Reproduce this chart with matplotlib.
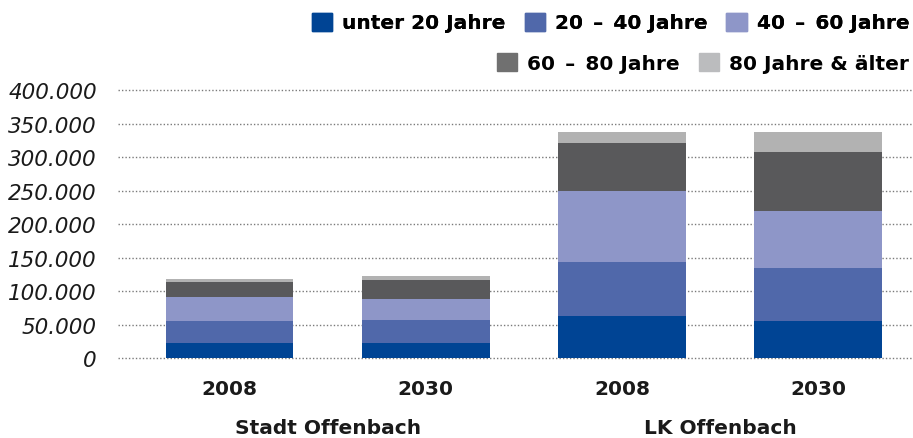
import matplotlib
matplotlib.use('Agg')
import matplotlib.pyplot as plt
import numpy as np
from matplotlib.patches import Patch

# Daten (Einwohner nach Altersgruppen)
jahre = ["2008", "2030", "2008", "2030"]
gebiete = ["Stadt Offenbach", "LK Offenbach"]
gruppen = ["unter 20 Jahre", "20\u2002–\u200240 Jahre", "40\u2002–\u200260 Jahre",
           "60\u2002–\u200280 Jahre", "80 Jahre & älter"]

unter_20 = [22500, 22500, 63000, 55000]
j20_40 = [32500, 34500, 81000, 80000]
j40_60 = [36000, 31000, 106000, 84000]
j60_80 = [23000, 29000, 72000, 89000]
ueber_80 = [4500, 5500, 16000, 30000]

farben = ["#004494", "#5068AA", "#8E96C8", "#59595B", "#B2B2B2"]
leg_farben = ["#004494", "#5068AA", "#8E96C8", "#707070", "#BBBCBE"]

schrift = 'DejaVu Sans'

fig = plt.figure(figsize=(9.13, 4.39), dpi=100)
ax = fig.add_axes([0.129, 0.182, 0.87, 0.61])

x = np.arange(len(jahre))
unten = np.zeros(len(jahre))
for werte, farbe, name in zip([unter_20, j20_40, j40_60, j60_80, ueber_80], farben, gruppen):
    ax.bar(x, werte, width=0.65, bottom=unten, color=farbe, label=name, zorder=3)
    unten += np.array(werte)

ax.set_ylim(0, 400000)
ax.set_xlim(-0.571, 3.48)
ax.set_yticks(np.arange(0, 400001, 50000))
ax.set_yticklabels([f"{v:,}".replace(",", ".") for v in range(0, 400001, 50000)],
                   fontstyle='italic', fontsize=15.5, family='DejaVu Sans', color='#1a1a1a')
ax.yaxis.grid(True, linestyle=(0, (1, 1.5)), color='#7a7a7a', linewidth=1.0, zorder=0)
for gl in ax.yaxis.get_gridlines():
    gl.set_clip_on(False)
ax.tick_params(axis='y', length=0, pad=15)
ax.tick_params(axis='x', length=0, pad=15)
ax.set_xticks(x)
ax.set_xticklabels(jahre, fontsize=14.5, fontweight='bold', family=schrift, color='#1a1a1a')
for s in ax.spines.values():
    s.set_visible(False)

# Gebietsbeschriftung
for i, name in enumerate(gebiete):
    ax.text(2 * i + 0.5, -0.26, name, transform=ax.get_xaxis_transform(),
            ha='center', va='center', fontsize=14.5, fontweight='bold', family=schrift, color='#1a1a1a')

# Legende in zwei Zeilen, rechtsbündig
h = [Patch(color=c) for c in leg_farben]
kw = dict(frameon=False, prop={'family': schrift, 'weight': 'bold', 'size': 14.5},
          handlelength=1.0, handleheight=1.0, handletextpad=0.5, columnspacing=0.95, borderpad=0)
l1 = fig.legend(h[:3], gruppen[:3], loc='upper right', bbox_to_anchor=(1.007, 0.992), ncol=3, **kw)
fig.legend(h[3:], gruppen[3:], loc='upper right', bbox_to_anchor=(1.007, 0.9), ncol=2, **kw)
fig.add_artist(l1)

plt.savefig("out.png", dpi=100)
